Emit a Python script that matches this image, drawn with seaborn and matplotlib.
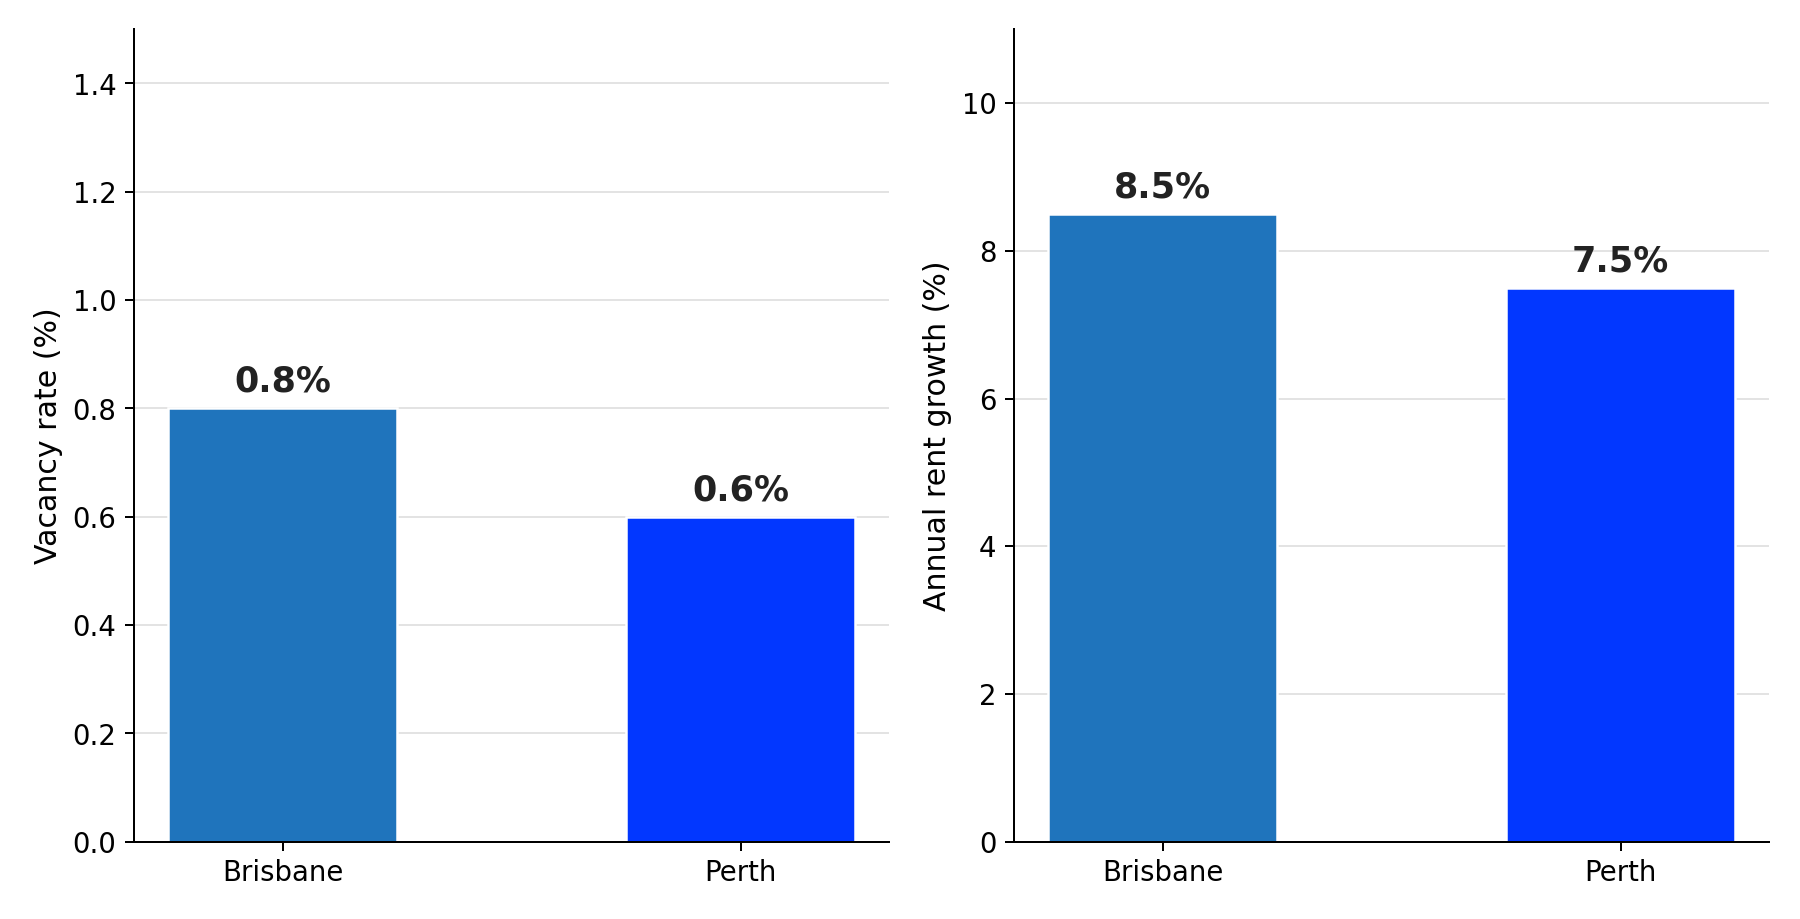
import matplotlib
matplotlib.use("Agg")
import matplotlib.pyplot as plt
import pandas as pd
import seaborn as sns

cities = ["Brisbane", "Perth"]
vacancy_rate = [0.8, 0.6]
rent_growth = [8.5, 7.5]
bar_colors = ["#1f74bc", "#0237ff"]

sns.set_style("ticks")
plt.rcParams["font.family"] = ["DejaVu Sans"]
plt.rcParams.update({
    "axes.edgecolor": "black",
    "xtick.color": "black",
    "ytick.color": "black",
    "axes.labelcolor": "black",
    "text.color": "black",
})

fig, axes = plt.subplots(1, 2, figsize=(10, 5.106), dpi=180)
fig.subplots_adjust(left=0.0745, right=0.983, top=0.968, bottom=0.084, wspace=0.165)

panels = [
    (axes[0], vacancy_rate, "Vacancy rate (%)", 1.5, [0, 0.2, 0.4, 0.6, 0.8, 1.0, 1.2, 1.4], "{:.1f}"),
    (axes[1], rent_growth, "Annual rent growth (%)", 11, [0, 2, 4, 6, 8, 10], "{:.0f}"),
]

for ax, values, ylabel, ymax, ticks, fmt in panels:
    df = pd.DataFrame({"city": cities, "value": values})
    sns.barplot(data=df, x="city", y="value", hue="city", palette=bar_colors,
                width=0.5, legend=False, saturation=1, ax=ax)
    ax.set_xlim(-0.325, 1.325)
    ax.set_ylim(0, ymax)
    ax.set_yticks(ticks)
    ax.set_yticklabels([fmt.format(t) for t in ticks])
    ax.set_xlabel("")
    ax.set_ylabel(ylabel, fontsize=12)
    ax.tick_params(labelsize=11)
    ax.yaxis.grid(True, color="#e0e0e0", linewidth=0.7)
    ax.set_axisbelow(True)
    sns.despine(ax=ax)
    for i, v in enumerate(values):
        ax.text(i, v + ymax * 0.012, f"{v:.1f}%", ha="center", va="bottom",
                fontsize=14, fontweight="bold", color="#222222")

fig.savefig("out.png", dpi=180)
